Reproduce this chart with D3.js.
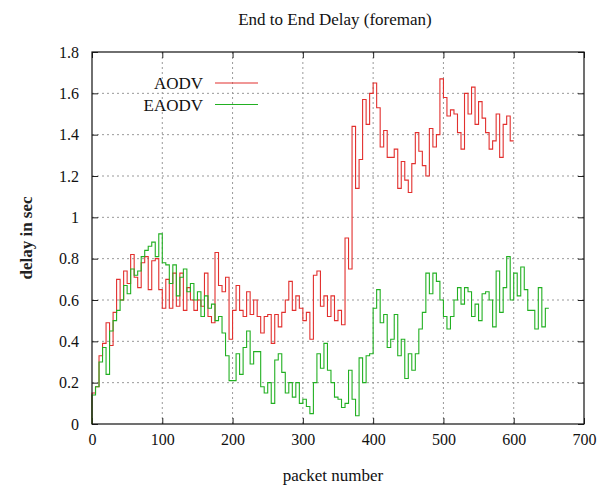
<html>
<script src='https://d3js.org/d3.v7.min.js'></script>
<style>
body { margin:0; background:white; }
text { font-family: "Liberation Serif", "DejaVu Serif", serif; }
</style>
<body>
<svg width=611 height=486></svg>
<script>

// packet step between samples
var step = 5;

// AODV delay, one value every 5 packets (0..600)
var aodv = [0,0.15,0.18,0.33,0.39,0.49,0.38,0.54,0.7,0.6,
0.74,0.68,0.82,0.71,0.66,0.78,0.81,0.65,0.79,0.8,
0.65,0.56,0.7,0.56,0.73,0.57,0.73,0.55,0.66,0.6,
0.55,0.6,0.57,0.73,0.52,0.49,0.83,0.67,0.64,0.71,
0.41,0.55,0.67,0.55,0.52,0.64,0.53,0.6,0.52,0.44,
0.52,0.53,0.39,0.53,0.47,0.54,0.6,0.69,0.55,0.62,
0.56,0.5,0.54,0.41,0.72,0.74,0.57,0.62,0.52,0.62,
0.5,0.55,0.48,0.9,0.75,1.44,1.14,1.28,1.57,1.45,
1.6,1.65,1.53,1.34,1.42,1.29,1.29,1.33,1.14,1.27,
1.18,1.12,1.26,1.41,1.32,1.25,1.2,1.43,1.34,1.4,
1.67,1.58,1.49,1.52,1.5,1.41,1.33,1.6,1.5,1.63,
1.45,1.56,1.48,1.41,1.33,1.37,1.5,1.29,1.45,1.49,
1.37];

// EAODV delay, one value every 5 packets (0..650)
var eaodv = [0,0.14,0.18,0.3,0.37,0.24,0.45,0.5,0.55,0.6,
0.67,0.63,0.75,0.72,0.74,0.81,0.84,0.86,0.88,0.81,
0.92,0.78,0.77,0.68,0.77,0.62,0.71,0.75,0.64,0.68,
0.6,0.64,0.52,0.62,0.56,0.58,0.5,0.52,0.44,0.33,
0.21,0.21,0.34,0.24,0.37,0.45,0.29,0.35,0.35,0.18,
0.15,0.2,0.1,0.31,0.34,0.25,0.15,0.2,0.13,0.2,
0.1,0.12,0.085,0.05,0.2,0.34,0.27,0.39,0.26,0.2,
0.13,0.12,0.08,0.1,0.26,0.12,0.04,0.32,0.2,0.33,
0.34,0.56,0.65,0.49,0.53,0.37,0.41,0.53,0.33,0.41,
0.22,0.34,0.26,0.34,0.46,0.54,0.73,0.63,0.73,0.69,
0.6,0.52,0.46,0.52,0.6,0.66,0.58,0.66,0.64,0.52,
0.58,0.5,0.63,0.64,0.6,0.47,0.74,0.54,0.66,0.81,
0.6,0.73,0.62,0.76,0.65,0.55,0.55,0.46,0.66,0.47,
0.56];

var xticks = [0,100,200,300,400,500,600,700];
var yticks = [0,0.2,0.4,0.6,0.8,1,1.2,1.4,1.6,1.8];
var seriesNames = ["AODV","EAODV"];
var seriesColors = ["#e2302e","#22b022"];

var pLeft = 92, pRight = 584, pTop = 52, pBottom = 424;
var x = d3.scaleLinear().domain([0,700]).range([pLeft,pRight]);
var y = d3.scaleLinear().domain([0,1.8]).range([pBottom,pTop]);

var svg = d3.select("svg");

// grid
svg.append("g").selectAll("line").data(xticks.slice(1,-1)).enter().append("line")
.attr("x1",function(d){return x(d);}).attr("x2",function(d){return x(d);})
.attr("y1",pTop).attr("y2",pBottom)
.attr("stroke","#999").attr("stroke-dasharray","2,3");
svg.append("g").selectAll("line").data(yticks.slice(1,-1)).enter().append("line")
.attr("x1",pLeft).attr("x2",pRight)
.attr("y1",function(d){return y(d);}).attr("y2",function(d){return y(d);})
.attr("stroke","#999").attr("stroke-dasharray","2,3");

// axes with inward ticks
svg.append("g").attr("transform","translate(0,"+pBottom+")")
.call(d3.axisBottom(x).tickValues(xticks).tickSizeInner(-6).tickSizeOuter(0).tickPadding(10).tickFormat(d3.format("d")))
.call(function(g){g.select(".domain").remove();});
svg.append("g").attr("transform","translate(0,"+pTop+")")
.call(d3.axisTop(x).tickValues(xticks).tickSizeInner(-6).tickSizeOuter(0).tickFormat(""))
.call(function(g){g.select(".domain").remove();});
svg.append("g").attr("transform","translate("+pLeft+",0)")
.call(d3.axisLeft(y).tickValues(yticks).tickSizeInner(-6).tickSizeOuter(0).tickPadding(13).tickFormat(function(d){return d;}))
.call(function(g){g.select(".domain").remove();});
svg.append("g").attr("transform","translate("+pRight+",0)")
.call(d3.axisRight(y).tickValues(yticks).tickSizeInner(-6).tickSizeOuter(0).tickFormat(""))
.call(function(g){g.select(".domain").remove();});

svg.selectAll(".tick text")
.attr("font-family","Liberation Serif").attr("font-size","16px").attr("fill","#111");
svg.selectAll(".tick line").attr("stroke","#222");

// series
var line = d3.line()
.x(function(d,i){return x(i*step);})
.y(function(d){return y(d);})
.curve(d3.curveStepBefore);

[aodv,eaodv].forEach(function(s,k){
  svg.append("path").datum(s)
  .attr("d",line)
  .attr("fill","none")
  .attr("stroke",seriesColors[k])
  .attr("stroke-width",1.1);
});

// frame
svg.append("rect").attr("x",pLeft).attr("y",pTop)
.attr("width",pRight-pLeft).attr("height",pBottom-pTop)
.attr("fill","none").attr("stroke","#111").attr("stroke-width",1.2);

// legend
seriesNames.forEach(function(n,k){
  var ly = 83 + k*21.5;
  svg.append("text").attr("x",203).attr("y",ly+6)
  .attr("text-anchor","end").attr("font-size","17px").attr("fill","#111").text(n);
  svg.append("line").attr("x1",215).attr("x2",258)
  .attr("y1",ly).attr("y2",ly)
  .attr("stroke",seriesColors[k]).attr("stroke-width",1.2);
});

// titles
svg.append("text").attr("x",335).attr("y",25).attr("text-anchor","middle")
.attr("font-size","17px").attr("fill","#111").text("End to End Delay (foreman)");
svg.append("text").attr("x",333).attr("y",481).attr("text-anchor","middle")
.attr("font-size","17px").attr("fill","#111").text("packet number");
svg.append("text").attr("transform","translate(32,238) rotate(-90)").attr("text-anchor","middle")
.attr("font-size","17px").attr("font-weight","bold").attr("fill","#222").text("delay in sec");

</script>
</body>
</html>
